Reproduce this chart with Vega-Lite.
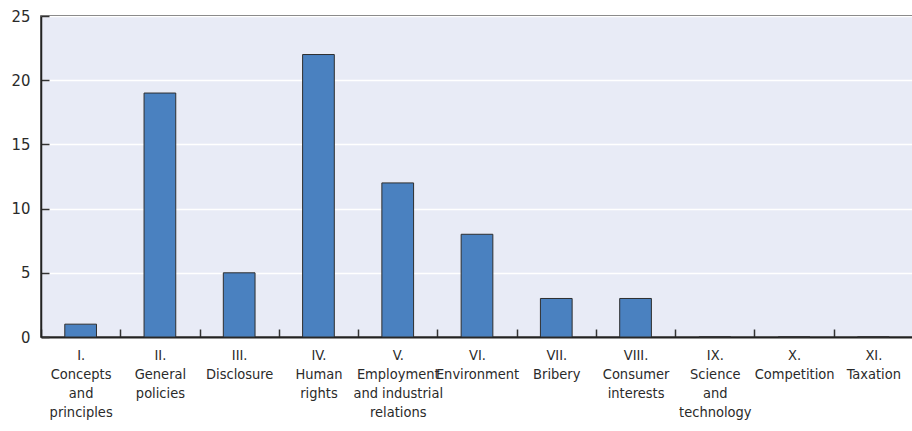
{
  "$schema": "https://vega.github.io/schema/vega-lite/v6.json",
  "autosize": "none",
  "padding": {"left": 41, "top": 16, "right": 0, "bottom": 94},
  "width": 872,
  "height": 321,
  "background": "white",
  "config": {
    "view": {"fill": "#e8ebf6", "stroke": "#333333", "strokeWidth": 1.5},
    "font": "DejaVu Sans Condensed, Roboto, sans-serif"
  },
  "data": {
    "values": [
      {"chapter": "I.|Concepts|and|principles", "count": 1},
      {"chapter": "II.|General|policies", "count": 19},
      {"chapter": "III.|Disclosure", "count": 5},
      {"chapter": "IV.|Human|rights", "count": 22},
      {"chapter": "V.|Employment|and industrial|relations", "count": 12},
      {"chapter": "VI.|Environment", "count": 8},
      {"chapter": "VII.|Bribery", "count": 3},
      {"chapter": "VIII.|Consumer|interests", "count": 3},
      {"chapter": "IX.|Science|and|technology", "count": 0},
      {"chapter": "X.|Competition", "count": 0},
      {"chapter": "XI.|Taxation", "count": 0}
    ]
  },
  "mark": {"type": "bar", "fill": "#4a81c0", "stroke": "#2e2e2e", "strokeWidth": 1, "width": {"band": 0.4}},
  "encoding": {
    "x": {
      "field": "chapter", "type": "nominal", "sort": null,
      "scale": {"paddingInner": 0, "paddingOuter": 0},
      "axis": {
        "title": null, "labelAngle": 0, "labelExpr": "split(datum.label, '|')",
        "labelFont": "DejaVu Sans Condensed, Roboto, sans-serif", "labelFontSize": 14.5, "labelColor": "#2a2a2a",
        "labelLineHeight": 19, "labelPadding": 19, "labelBaseline": "top",
        "tickBand": "extent", "tickSize": -8, "tickColor": "#333333", "tickWidth": 1.5,
        "domainColor": "#222222", "domainWidth": 2
      }
    },
    "y": {
      "field": "count", "type": "quantitative",
      "scale": {"domain": [0, 25], "nice": false},
      "axis": {
        "title": null, "values": [0, 5, 10, 15, 20, 25],
        "labelFont": "DejaVu Sans Condensed, Roboto, sans-serif", "labelFontSize": 16.5, "labelColor": "#2a2a2a",
        "labelPadding": 19,
        "tickSize": -8, "tickColor": "#333333", "tickWidth": 1.5,
        "domainColor": "#222222", "domainWidth": 1.5,
        "grid": true, "gridColor": "#ffffff", "gridWidth": 1.5
      }
    }
  }
}
